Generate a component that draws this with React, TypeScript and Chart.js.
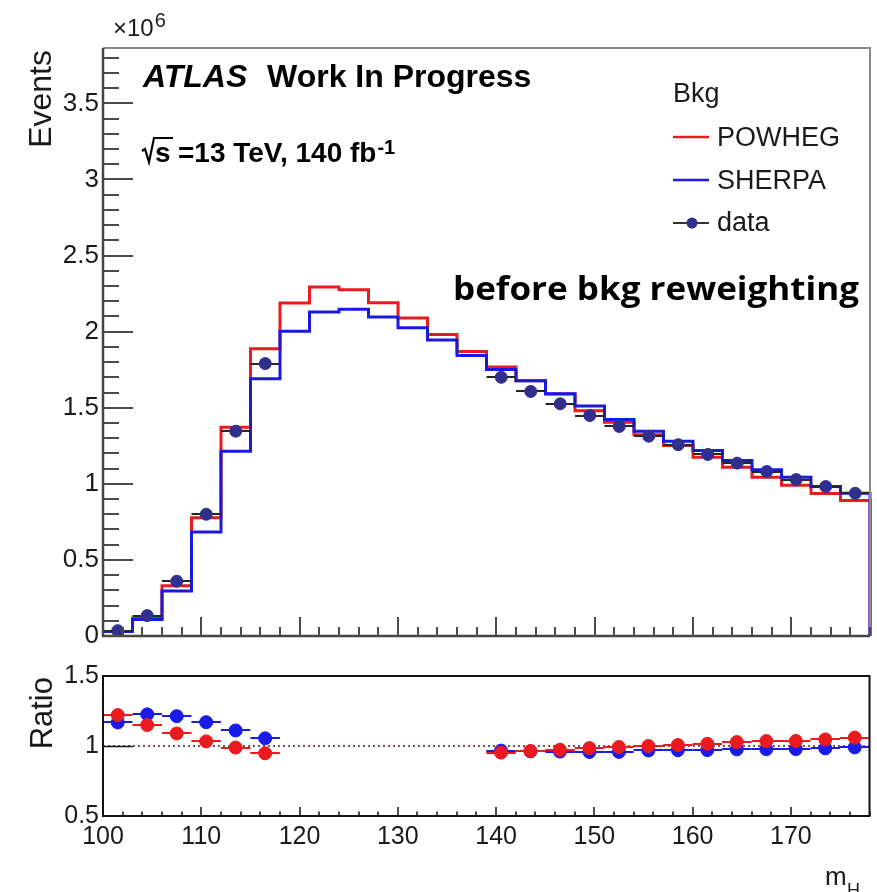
import React, { useEffect, useRef } from 'react';
import { Chart, registerables } from 'chart.js';
Chart.register(...registerables);

// ---------------- data ----------------
const binEdges = [100, 103, 106, 109, 112, 115, 118, 121, 124, 127, 130, 133, 136, 139, 142, 145, 148, 151, 154, 157, 160, 163, 166, 169, 172, 175, 178];
// Events (x10^6)
const powheg = [0.029, 0.117, 0.330, 0.777, 1.372, 1.888, 2.188, 2.293, 2.276, 2.190, 2.090, 1.982, 1.870, 1.767, 1.677, 1.590, 1.480, 1.405, 1.322, 1.252, 1.175, 1.109, 1.043, 0.990, 0.936, 0.890];
const sherpa = [0.030, 0.109, 0.296, 0.683, 1.214, 1.691, 2.002, 2.129, 2.147, 2.096, 2.026, 1.945, 1.843, 1.752, 1.677, 1.592, 1.511, 1.423, 1.346, 1.280, 1.219, 1.153, 1.092, 1.043, 0.982, 0.938];
const dataEvents = [0.035, 0.134, 0.360, 0.800, 1.346, 1.790, null, null, null, null, null, null, null, 1.700, 1.607, 1.526, 1.449, 1.377, 1.313, 1.257, 1.193, 1.136, 1.081, 1.028, 0.982, 0.938];
// Ratio data / MC
const ratioPowheg = [1.221, 1.150, 1.090, 1.033, 0.989, 0.948, null, null, null, null, null, null, null, 0.953, 0.964, 0.973, 0.985, 0.993, 1.000, 1.007, 1.016, 1.028, 1.035, 1.036, 1.047, 1.060];
const ratioSherpa = [1.168, 1.226, 1.213, 1.170, 1.111, 1.055, null, null, null, null, null, null, null, 0.967, 0.962, 0.960, 0.957, 0.958, 0.968, 0.970, 0.971, 0.976, 0.977, 0.978, 0.983, 0.990];

const mainYTicks = [0, 0.5, 1, 1.5, 2, 2.5, 3, 3.5];
const ratioYTicks = [0.5, 1, 1.5];
const xTickLabels = [100, 110, 120, 130, 140, 150, 160, 170];
const seriesNames = ['POWHEG', 'SHERPA', 'data'];
const legendTitle = 'Bkg';

// ---------------- style ----------------
const RED = '#ea1a1f';
const BLUE = '#1b1be8';
const NAVY = '#30308c';
const TXT = '#1a1a1a';
const FONT = '"Liberation Sans", Arial, Helvetica, sans-serif';

const centers = binEdges.slice(0, -1).map((e, i) => (e + binEdges[i + 1]) / 2);

function histLine(vals: number[]) {
  const pts = vals.map((v, i) => ({ x: binEdges[i], y: v }));
  pts.push({ x: binEdges[binEdges.length - 1], y: vals[vals.length - 1] });
  pts.push({ x: binEdges[binEdges.length - 1], y: 0 });
  return pts;
}
function pointsOf(vals: (number | null)[]) {
  const out: any[] = [];
  vals.forEach((v, i) => {
    if (v != null) out.push({ x: centers[i], y: v, lo: binEdges[i], hi: binEdges[i + 1] });
  });
  return out;
}

const errorBars = {
  id: 'errorBars',
  beforeDatasetDraw(chart: any, args: any) {
    const ds = chart.data.datasets[args.index];
    if (!ds.errColor) return;
    const { ctx, scales } = chart;
    const x = scales.x, y = scales.y;
    ctx.save();
    ctx.strokeStyle = ds.errColor;
    ctx.lineWidth = 2;
    for (const p of ds.data) {
      const py = Math.round(y.getPixelForValue(p.y));
      ctx.beginPath();
      ctx.moveTo(x.getPixelForValue(p.lo), py);
      ctx.lineTo(x.getPixelForValue(p.hi), py);
      ctx.stroke();
    }
    ctx.restore();
  },
};

const mainDecor = {
  id: 'mainDecor',
  afterDatasetsDraw(chart: any) {
    const { ctx, chartArea: a, scales } = chart;
    const x = scales.x, y = scales.y;
    ctx.save();
    // frame
    ctx.strokeStyle = '#8c8c8c';
    ctx.lineWidth = 2;
    ctx.beginPath();
    ctx.moveTo(a.left, a.top); ctx.lineTo(a.right, a.top); ctx.lineTo(a.right, a.bottom);
    ctx.stroke();
    ctx.strokeStyle = '#444';
    ctx.lineWidth = 2.5;
    ctx.beginPath();
    ctx.moveTo(a.left, a.top); ctx.lineTo(a.left, a.bottom); ctx.lineTo(a.right, a.bottom);
    ctx.stroke();
    // y ticks
    ctx.lineWidth = 2;
    ctx.strokeStyle = '#4a4a4a';
    for (let k = 0; k * 0.1 <= y.max + 1e-9; k++) {
      const py = Math.round(y.getPixelForValue(k * 0.1));
      const len = k % 5 === 0 ? 30 : 16;
      ctx.beginPath(); ctx.moveTo(a.left, py); ctx.lineTo(a.left + len, py); ctx.stroke();
    }
    // x ticks
    for (let v = 102; v <= x.max; v += 2) {
      const px = Math.round(x.getPixelForValue(v));
      const len = v % 10 === 0 ? 19 : 9;
      ctx.beginPath(); ctx.moveTo(px, a.bottom); ctx.lineTo(px, a.bottom - len); ctx.stroke();
    }
    ctx.restore();
  },
  afterDraw(chart: any) {
    const { ctx } = chart;
    ctx.save();
    ctx.fillStyle = TXT;
    ctx.textBaseline = 'alphabetic';
    ctx.textAlign = 'left';
    // x10^6
    ctx.font = `24px ${FONT}`;
    ctx.fillText('\u00d710', 113, 36);
    const w10 = ctx.measureText('\u00d710').width;
    ctx.font = `20px ${FONT}`;
    ctx.fillText('6', 113 + w10 + 1, 27);
    // ATLAS Work In Progress
    ctx.fillStyle = '#000';
    ctx.font = `italic bold 32px ${FONT}`;
    ctx.fillText('ATLAS', 143, 87);
    ctx.font = `bold 32px ${FONT}`;
    ctx.fillText('Work In Progress', 267, 87);
    // sqrt s
    ctx.lineWidth = 2.2;
    ctx.strokeStyle = '#000';
    ctx.beginPath();
    ctx.moveTo(142, 151); ctx.lineTo(145, 149); ctx.lineTo(149, 162); ctx.lineTo(154, 138); ctx.lineTo(173, 138);
    ctx.stroke();
    ctx.font = `bold 28px ${FONT}`;
    ctx.fillText('s', 155, 162);
    const t = '=13 TeV, 140 fb';
    ctx.fillText(t, 178, 162);
    const w = ctx.measureText(t).width;
    ctx.font = `bold 20px ${FONT}`;
    ctx.fillText('-1', 178 + w + 1, 154);
    // legend
    ctx.fillStyle = TXT;
    ctx.font = `27px ${FONT}`;
    ctx.fillText(legendTitle, 673, 102);
    const rows = [
      { name: seriesNames[0], ly: 137, ty: 146, color: RED },
      { name: seriesNames[1], ly: 180, ty: 189, color: BLUE },
      { name: seriesNames[2], ly: 223, ty: 231, color: '#333' },
    ];
    rows.forEach((r, i) => {
      ctx.strokeStyle = r.color;
      ctx.lineWidth = i === 2 ? 2 : 2.5;
      ctx.beginPath(); ctx.moveTo(673, r.ly); ctx.lineTo(709, r.ly); ctx.stroke();
      if (i === 2) {
        ctx.fillStyle = NAVY;
        ctx.beginPath(); ctx.arc(692, r.ly, 5.5, 0, Math.PI * 2); ctx.fill();
      }
      ctx.fillStyle = TXT;
      ctx.font = `27px ${FONT}`;
      ctx.fillText(r.name, 717, r.ty);
    });
    // annotation
    ctx.fillStyle = '#000';
    ctx.font = `bold 33px "Open Sans", "Noto Sans", sans-serif`;
    const ann = 'before bkg reweighting';
    const aw = ctx.measureText(ann).width;
    ctx.save();
    ctx.translate(453, 300);
    ctx.scale(406 / aw, 1);
    ctx.fillText(ann, 0, 0);
    ctx.restore();
    // y title
    ctx.fillStyle = TXT;
    ctx.translate(51, 50);
    ctx.rotate(-Math.PI / 2);
    ctx.textAlign = 'right';
    ctx.font = `32px ${FONT}`;
    ctx.fillText('Events', 0, 0);
    ctx.restore();
  },
};

const ratioDecor = {
  id: 'ratioDecor',
  afterDatasetsDraw(chart: any) {
    const { ctx, chartArea: a, scales } = chart;
    const x = scales.x, y = scales.y;
    ctx.save();
    ctx.strokeStyle = '#111';
    ctx.lineWidth = 2;
    ctx.strokeRect(a.left, a.top, a.right - a.left, a.bottom - a.top);
    ctx.lineWidth = 1.5;
    for (let v = 102; v <= x.max; v += 2) {
      const px = Math.round(x.getPixelForValue(v));
      const len = v % 10 === 0 ? 9 : 4.5;
      ctx.beginPath(); ctx.moveTo(px, a.bottom); ctx.lineTo(px, a.bottom - len); ctx.stroke();
    }
    const p1 = Math.round(y.getPixelForValue(1)) + 0.5;
    ctx.beginPath(); ctx.moveTo(a.left, p1); ctx.lineTo(a.left + 30, p1); ctx.stroke();
    ctx.restore();
  },
  afterDraw(chart: any) {
    const { ctx } = chart;
    ctx.save();
    ctx.fillStyle = TXT;
    ctx.textBaseline = 'alphabetic';
    ctx.font = `26px ${FONT}`;
    ctx.textAlign = 'left';
    ctx.fillText('m', 825, 235);
    ctx.font = `18px ${FONT}`;
    ctx.fillText('H', 847, 246);
    ctx.translate(52, 27);
    ctx.rotate(-Math.PI / 2);
    ctx.textAlign = 'right';
    ctx.font = `31px ${FONT}`;
    ctx.fillText('Ratio', 0, 0);
    ctx.restore();
  },
};

export default function App() {
  const topRef = useRef<HTMLCanvasElement>(null);
  const botRef = useRef<HTMLCanvasElement>(null);

  useEffect(() => {
    document.body.style.margin = '0';
    const top = new Chart(topRef.current!, {
      type: 'line',
      data: {
        datasets: [
          { label: seriesNames[2], data: pointsOf(dataEvents), showLine: false, pointRadius: 6, pointBackgroundColor: NAVY, pointBorderColor: NAVY, pointBorderWidth: 1, errColor: '#262626', order: 0 } as any,
          { label: 'SHERPA overlay', data: histLine(sherpa), stepped: 'before', borderColor: 'rgba(25,25,70,0.45)', borderWidth: 1, borderDash: [7, 6], pointRadius: 0, fill: false, clip: false, order: 1 } as any,
          { label: seriesNames[1], data: histLine(sherpa), stepped: 'before', borderColor: BLUE, borderWidth: 3, pointRadius: 0, fill: false, clip: false, order: 2 } as any,
          { label: seriesNames[0], data: histLine(powheg), stepped: 'before', borderColor: RED, borderWidth: 3, pointRadius: 0, fill: false, clip: false, order: 3 } as any,
        ],
      },
      options: {
        animation: false,
        responsive: false,
        maintainAspectRatio: false,
        layout: { padding: { left: 0, right: 3, top: 48, bottom: 0 } },
        plugins: { legend: { display: false }, tooltip: { enabled: false } },
        scales: {
          x: {
            type: 'linear', min: 100, max: 178,
            grid: { display: false, drawTicks: false }, border: { display: false },
            ticks: { display: false },
            afterFit: (s: any) => { s.height = 24; },
          },
          y: {
            type: 'linear', min: 0, max: 3.864,
            grid: { display: false, drawTicks: false }, border: { display: false },
            ticks: { font: { family: FONT, size: 26 }, color: TXT, padding: 4, callback: (v: any) => String(v) },
            afterBuildTicks: (s: any) => { s.ticks = mainYTicks.map((v) => ({ value: v })); },
            afterFit: (s: any) => { s.width = 103; },
          },
        },
      } as any,
      plugins: [errorBars, mainDecor],
    });

    const bot = new Chart(botRef.current!, {
      type: 'line',
      data: {
        datasets: [
          { label: 'POWHEG ratio', data: pointsOf(ratioPowheg), showLine: false, pointRadius: 6.5, pointBackgroundColor: RED, pointBorderColor: RED, pointBorderWidth: 1, errColor: RED, order: 0 } as any,
          { label: 'SHERPA ratio', data: pointsOf(ratioSherpa), showLine: false, pointRadius: 6.5, pointBackgroundColor: BLUE, pointBorderColor: BLUE, pointBorderWidth: 1, errColor: BLUE, order: 1 } as any,
          { label: 'unity', data: [{ x: binEdges[0], y: 1 }, { x: binEdges[binEdges.length - 1], y: 1 }], borderColor: '#5a1a1a', borderWidth: 1.5, borderDash: [2, 3], pointRadius: 0, order: 2 } as any,
        ],
      },
      options: {
        animation: false,
        responsive: false,
        maintainAspectRatio: false,
        layout: { padding: { left: 0, right: 3, top: 26, bottom: 0 } },
        plugins: { legend: { display: false }, tooltip: { enabled: false } },
        scales: {
          x: {
            type: 'linear', min: 100, max: 178,
            grid: { display: false, drawTicks: false }, border: { display: false },
            ticks: { font: { family: FONT, size: 25 }, color: TXT, padding: 6, maxRotation: 0, callback: (v: any) => String(v) },
            afterBuildTicks: (s: any) => { s.ticks = xTickLabels.map((v) => ({ value: v })); },
            afterFit: (s: any) => { s.height = 76; },
          },
          y: {
            type: 'linear', min: 0.5, max: 1.5,
            grid: { display: false, drawTicks: false }, border: { display: false },
            ticks: { font: { family: FONT, size: 25 }, color: TXT, padding: 4, callback: (v: any) => String(v) },
            afterBuildTicks: (s: any) => { s.ticks = ratioYTicks.map((v) => ({ value: v })); },
            afterFit: (s: any) => { s.width = 103; },
          },
        },
      } as any,
      plugins: [errorBars, ratioDecor],
    });

    return () => { top.destroy(); bot.destroy(); };
  }, []);

  return (
    <div style={{ position: 'relative', width: 877, height: 892, background: '#fff', overflow: 'hidden' }}>
      <canvas ref={topRef} width={877} height={660} style={{ position: 'absolute', left: 0, top: 0 }} />
      <canvas ref={botRef} width={877} height={242} style={{ position: 'absolute', left: 0, top: 650 }} />
    </div>
  );
}
